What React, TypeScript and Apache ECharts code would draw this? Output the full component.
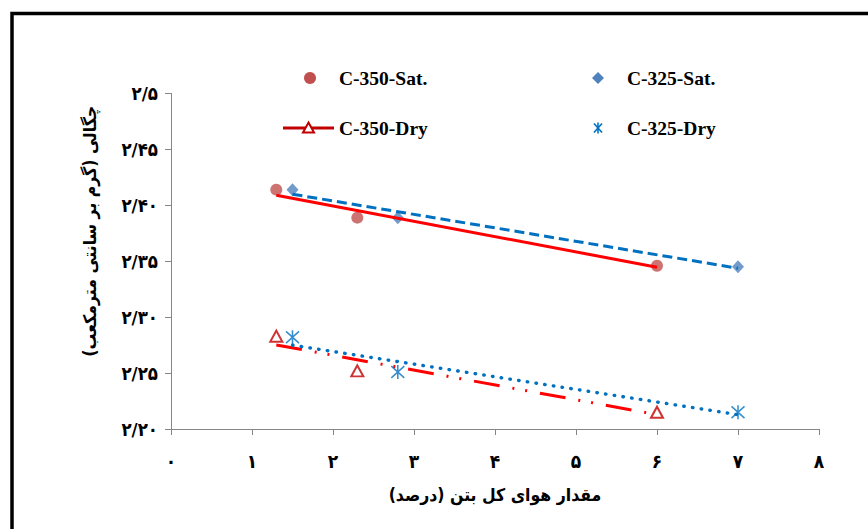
import React, { useEffect, useRef } from "react";
import * as echarts from "echarts";

// ---- Data ----
const xSat350 = [1.3, 2.3, 6];
const ySat350 = [2.414, 2.389, 2.346];
const xSat325 = [1.5, 2.8, 7];
const ySat325 = [2.414, 2.389, 2.345];
const xDry350 = [1.3, 2.3, 6];
const yDry350 = [2.283, 2.252, 2.215];
const xDry325 = [1.5, 2.8, 7];
const yDry325 = [2.282, 2.251, 2.215];

const xTickLabels = ["۰", "۱", "۲", "۳", "۴", "۵", "۶", "۷", "۸"];
const yTickLabels = ["۲/۲۰", "۲/۲۵", "۲/۳۰", "۲/۳۵", "۲/۴۰", "۲/۴۵", "۲/۵"];
const seriesNames = ["C-350-Sat.", "C-325-Sat.", "C-350-Dry", "C-325-Dry"];
const xTitle = "مقدار هوای کل بتن (درصد)";
const yTitle = "چگالی (گرم بر سانتی مترمکعب)";

function pairs(xs: number[], ys: number[]) {
  return xs.map((x, i) => [x, ys[i]]);
}

// Linear trendline (least squares) over the data range
function trend(xs: number[], ys: number[]) {
  const n = xs.length;
  const mx = xs.reduce((a, b) => a + b, 0) / n;
  const my = ys.reduce((a, b) => a + b, 0) / n;
  let sxy = 0,
    sxx = 0;
  for (let i = 0; i < n; i++) {
    sxy += (xs[i] - mx) * (ys[i] - my);
    sxx += (xs[i] - mx) * (xs[i] - mx);
  }
  const b = sxy / sxx;
  const a = my - b * mx;
  const x0 = Math.min(...xs);
  const x1 = Math.max(...xs);
  return [
    [x0, a + b * x0],
    [x1, a + b * x1],
  ];
}

const FA_FONT = '"DejaVu Sans Condensed", "DejaVu Sans", sans-serif';
const EN_FONT = '"Liberation Serif", "Times New Roman", serif';

const ASTERISK = "path://M0,0L10,10M10,0L0,10M5,-1L5,11";

export default function App() {
  const ref = useRef<HTMLDivElement>(null);

  useEffect(() => {
    document.body.style.margin = "0";
    if (!ref.current) return;
    const chart = echarts.init(ref.current, null, { renderer: "svg" });

    const legendFont = `bold 19.5px ${EN_FONT}`;
    const option: any = {
      animation: false,
      backgroundColor: "#ffffff",
      grid: { left: 171, right: 49, top: 93.5, bottom: 100 },
      xAxis: {
        type: "value",
        min: 0,
        max: 8,
        interval: 1,
        name: xTitle,
        nameLocation: "middle",
        nameGap: 57,
        nameTextStyle: {
          fontFamily: FA_FONT,
          fontWeight: "bold",
          fontSize: 17.5,
          color: "#000",
        },
        axisLine: { show: true, lineStyle: { color: "#868686", width: 1 } },
        axisTick: { show: true, length: 6, lineStyle: { color: "#868686" } },
        splitLine: { show: false },
        axisLabel: {
          margin: 22,
          fontFamily: FA_FONT,
          fontWeight: "bold",
          fontSize: 19,
          color: "#000",
          formatter: (v: number) => xTickLabels[Math.round(v)] ?? "",
        },
      },
      yAxis: {
        type: "value",
        min: 2.2,
        max: 2.5,
        interval: 0.05,
        name: yTitle,
        nameLocation: "middle",
        nameGap: 72,
        nameRotate: 90,
        nameTextStyle: {
          fontFamily: FA_FONT,
          fontWeight: "bold",
          fontSize: 17.5,
          color: "#000",
          padding: [0, 0, 0, 60],
        },
        axisLine: { show: true, lineStyle: { color: "#868686", width: 1 } },
        axisTick: { show: true, length: 6, lineStyle: { color: "#868686" } },
        splitLine: { show: false },
        axisLabel: {
          margin: 13,
          fontFamily: FA_FONT,
          fontWeight: "bold",
          fontSize: 18.5,
          color: "#000",
          formatter: (v: number) =>
            yTickLabels[Math.round((v - 2.2) / 0.05)] ?? "",
        },
      },
      series: [
        {
          name: seriesNames[0],
          type: "scatter",
          data: pairs(xSat350, ySat350),
          symbol: "circle",
          symbolSize: 12,
          itemStyle: { color: "#C0504D" },
          z: 2,
        },
        {
          name: seriesNames[1],
          type: "scatter",
          data: pairs(xSat325, ySat325),
          symbol: "diamond",
          symbolSize: [12, 13],
          itemStyle: { color: "#4F81BD" },
          z: 2,
        },
        {
          name: seriesNames[2],
          type: "scatter",
          data: pairs(xDry350, yDry350),
          symbol: "triangle",
          symbolSize: [12, 11],
          itemStyle: {
            color: "#ffffff",
            borderColor: "#C00000",
            borderWidth: 2,
          },
          z: 2,
        },
        {
          name: seriesNames[3],
          type: "scatter",
          data: pairs(xDry325, yDry325),
          symbol: ASTERISK,
          symbolSize: [13, 14],
          itemStyle: {
            color: "none",
            borderColor: "#0070C0",
            borderWidth: 1.6,
          },
          z: 2,
        },
        {
          name: "trend-350-sat",
          type: "line",
          data: trend(xSat350, ySat350),
          showSymbol: false,
          symbol: "none",
          lineStyle: { color: "#FF0000", width: 3 },
          z: 3,
        },
        {
          name: "trend-325-sat",
          type: "line",
          data: trend(xSat325, ySat325),
          showSymbol: false,
          symbol: "none",
          lineStyle: { color: "#0070C0", width: 3, type: [10, 5] },
          z: 3,
        },
        {
          name: "trend-350-dry",
          type: "line",
          data: trend(xDry350, yDry350),
          showSymbol: false,
          symbol: "none",
          lineStyle: {
            color: "#FF0000",
            width: 3,
            type: [26, 13, 2, 11, 2, 13],
          },
          z: 3,
        },
        {
          name: "trend-325-dry",
          type: "line",
          data: trend(xDry325, yDry325),
          showSymbol: false,
          symbol: "none",
          lineStyle: {
            color: "#0070C0",
            width: 3.4,
            type: [0.5, 8.3],
            cap: "round",
          },
          z: 3,
        },
      ],
      graphic: [
        {
          type: "rect",
          shape: { x: 12, y: 13.5, width: 900, height: 600 },
          style: { fill: "none", stroke: "#000", lineWidth: 3.5 },
          silent: true,
        },
        // Legend row 1
        {
          type: "circle",
          shape: { cx: 310, cy: 78, r: 6 },
          style: { fill: "#C0504D" },
        },
        {
          type: "text",
          x: 339,
          y: 78,
          style: {
            text: seriesNames[0],
            font: legendFont,
            fill: "#000",
            verticalAlign: "middle",
          },
        },
        {
          type: "polygon",
          shape: {
            points: [
              [598, 72],
              [604, 78],
              [598, 84],
              [592, 78],
            ],
          },
          style: { fill: "#4F81BD" },
        },
        {
          type: "text",
          x: 627,
          y: 78,
          style: {
            text: seriesNames[1],
            font: legendFont,
            fill: "#000",
            verticalAlign: "middle",
          },
        },
        // Legend row 2
        {
          type: "line",
          shape: { x1: 283, y1: 128, x2: 334, y2: 128 },
          style: { stroke: "#C00000", lineWidth: 3 },
        },
        {
          type: "polygon",
          shape: {
            points: [
              [308.5, 122.5],
              [314, 132.5],
              [303, 132.5],
            ],
          },
          style: { fill: "#ffffff", stroke: "#C00000", lineWidth: 2 },
        },
        {
          type: "text",
          x: 339,
          y: 128,
          style: {
            text: seriesNames[2],
            font: legendFont,
            fill: "#000",
            verticalAlign: "middle",
          },
        },
        {
          type: "group",
          children: [
            {
              type: "line",
              shape: { x1: 594, y1: 123.5, x2: 602, y2: 132.5 },
              style: { stroke: "#0070C0", lineWidth: 1.6 },
            },
            {
              type: "line",
              shape: { x1: 602, y1: 123.5, x2: 594, y2: 132.5 },
              style: { stroke: "#0070C0", lineWidth: 1.6 },
            },
            {
              type: "line",
              shape: { x1: 598, y1: 122.5, x2: 598, y2: 133.5 },
              style: { stroke: "#0070C0", lineWidth: 1.6 },
            },
          ],
        },
        {
          type: "text",
          x: 627,
          y: 128,
          style: {
            text: seriesNames[3],
            font: legendFont,
            fill: "#000",
            verticalAlign: "middle",
          },
        },
      ],
    };

    chart.setOption(option);
    return () => {
      chart.dispose();
    };
  }, []);

  return <div ref={ref} style={{ width: 868, height: 529 }} />;
}
